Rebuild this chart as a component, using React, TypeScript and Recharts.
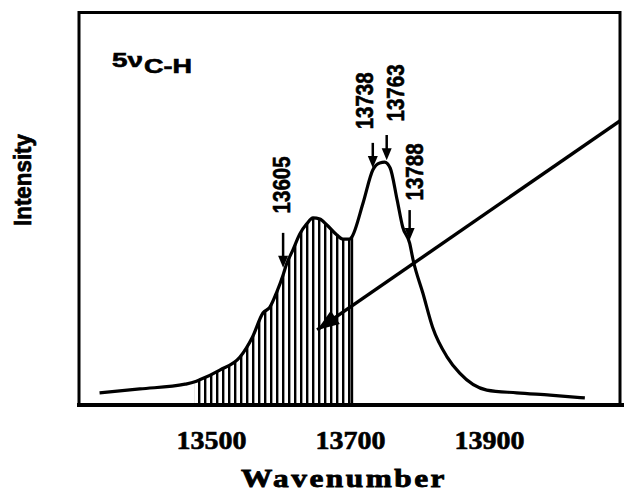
import React from 'react';
import {
  ComposedChart,
  Line,
  Area,
  XAxis,
  YAxis,
  ReferenceLine,
  Scatter,
  Customized,
} from 'recharts';

// Spectrum (wavenumber, intensity in arbitrary units 0..100)
const wavenumbers = [
  13339, 13397, 13462, 13476, 13483, 13512, 13541, 13559, 13574, 13584,
  13594, 13603, 13608, 13617, 13627, 13637, 13646, 13656, 13666, 13680,
  13689, 13699, 13702, 13718, 13732, 13742, 13749, 13757, 13767, 13775,
  13785, 13790, 13804, 13818, 13839, 13857, 13896, 13939, 13987, 14037,
];
const intensities = [
  3.1, 4.1, 5.3, 5.9, 6.4, 8.9, 12.2, 17.3, 23.4, 24.9,
  28.8, 33.1, 35.9, 39.4, 43.5, 46.1, 47.6, 47.3, 45.8, 43.3,
  42.2, 42.2, 42.8, 51.4, 59.8, 61.6, 61.8, 60.3, 52.2, 45.3,
  41.2, 36.9, 28.5, 19.8, 12.2, 8.1, 3.8, 3.1, 2.5, 1.8,
];
const hatchStart = 13476;
const hatchEnd = 13702;

const xDomain = [13308, 14089];
const yDomain = [0, 100];
const xTicks = [13500, 13700, 13900];

// Peak annotations
const peakLabels = ['13605', '13738', '13763', '13788'];
const arrowX = [13603, 13732, 13752, 13785];
const arrowTip = [34.9, 60.3, 62.3, 42.0];
const arrowTop = [43.8, 66.7, 68.7, 49.6];
const labelX = [13600, 13720, 13765, 13792];
const labelY = [56.0, 77.4, 79.4, 59.3];

// Diagonal pointer line (upper right to inside hatched area)
const pointerX = [14089, 13652];
const pointerY = [72.5, 19.1];

const spectrum = wavenumbers.map((wn, i) => ({
  wn,
  I: intensities[i],
  hatch: wn >= hatchStart && wn <= hatchEnd ? intensities[i] : null,
}));
const hatchEndValue = intensities[wavenumbers.indexOf(hatchEnd)];

const arrowHeads = arrowX.map((x, i) => ({ wn: x, I: arrowTip[i] }));
const labelPoints = labelX.map((x, i) => ({ wn: x, I: labelY[i], text: peakLabels[i] }));
const pointer = pointerX.map((x, i) => ({ wn: x, I: pointerY[i] }));

const ArrowHead = (props: any) => {
  const { cx, cy } = props;
  if (cx == null || cy == null) return null;
  return <path d={`M${cx},${cy} L${cx - 5},${cy - 12} L${cx + 5},${cy - 12} Z`} fill="#000" />;
};

const PeakLabel = (props: any) => {
  const { cx, cy, payload } = props;
  if (cx == null || cy == null) return null;
  return (
    <text
      x={cx}
      y={cy}
      transform={`rotate(-90 ${cx} ${cy})`}
      textAnchor="middle"
      dominantBaseline="central"
      fontFamily="'Liberation Sans', Arial, sans-serif"
      fontWeight="bold"
      fontSize={24}
      textLength={57}
      lengthAdjust="spacingAndGlyphs"
      fill="#000"
      stroke="#000"
      strokeWidth={0.6}
    >
      {payload.text}
    </text>
  );
};

const PointerDot = (props: any) => {
  const { cx, cy, index } = props;
  if (index !== 1 || cx == null || cy == null) return <g key={`pd-${index}`} />;
  const ang = Math.atan2(0.69, -1);
  const len = 22;
  const w = 8;
  const bx = cx - Math.cos(ang) * len;
  const by = cy - Math.sin(ang) * len;
  const px = -Math.sin(ang) * w;
  const py = Math.cos(ang) * w;
  return (
    <path
      key={`pd-${index}`}
      d={`M${cx},${cy} L${bx + px},${by + py} L${bx - px},${by - py} Z`}
      fill="#000"
    />
  );
};

const Tick = (props: any) => {
  const { x, payload } = props;
  return (
    <text
      x={x}
      y={449}
      textAnchor="middle"
      fontFamily="'Liberation Serif', 'Times New Roman', serif"
      fontWeight="bold"
      fontSize={26}
      textLength={70}
      lengthAdjust="spacingAndGlyphs"
      fill="#000"
      stroke="#000"
      strokeWidth={0.6}
    >
      {payload.value}
    </text>
  );
};

const StaticText = () => (
  <g>
    {/* frame */}
    <rect x={79} y={12.5} width={541} height={392.5} fill="none" stroke="#000" strokeWidth={3} />
    <line x1={77} y1={405} x2={624} y2={405} stroke="#000" strokeWidth={4} />
    <text
      x={23}
      y={180}
      transform="rotate(-90 23 180)"
      textAnchor="middle"
      dominantBaseline="central"
      fontFamily="'Liberation Sans Narrow', 'Liberation Sans', Arial, sans-serif"
      fontWeight="bold"
      fontSize={23}
      textLength={92}
      lengthAdjust="spacingAndGlyphs"
      fill="#000"
      stroke="#000"
      strokeWidth={0.7}
    >
      Intensity
    </text>
    <text
      x={344}
      y={487}
      textAnchor="middle"
      fontFamily="'Liberation Serif', 'Times New Roman', serif"
      fontWeight="bold"
      fontSize={25}
      letterSpacing={2}
      textLength={206}
      lengthAdjust="spacingAndGlyphs"
      fill="#000"
      stroke="#000"
      strokeWidth={0.8}
    >
      Wavenumber
    </text>
    <text
      x={112}
      y={67}
      fontFamily="'Liberation Sans', Arial, sans-serif"
      fontWeight="bold"
      fontSize={21}
      textLength={31}
      lengthAdjust="spacingAndGlyphs"
      fill="#000"
      stroke="#000"
      strokeWidth={0.6}
    >
      5ν
    </text>
    <text
      x={144}
      y={73}
      fontFamily="'Liberation Sans', Arial, sans-serif"
      fontWeight="bold"
      fontSize={20}
      textLength={48}
      lengthAdjust="spacingAndGlyphs"
      fill="#000"
      stroke="#000"
      strokeWidth={0.6}
    >
      C-H
    </text>
  </g>
);

export default function App() {
  return (
    <div
      style={{
        position: 'absolute',
        left: 0,
        top: 0,
        width: 624,
        height: 494,
        overflow: 'hidden',
        background: '#fff',
      }}
    >
      <ComposedChart
        width={624}
        height={494}
        data={spectrum}
        margin={{ top: 12, right: 3, left: 78, bottom: 59 }}
        style={{ display: 'block' }}
      >
        <defs>
          <pattern id="hatch" patternUnits="userSpaceOnUse" width={6} height={10}>
            <rect x={0} y={0} width={2.4} height={10} fill="#000" />
          </pattern>
        </defs>
        <XAxis
          type="number"
          dataKey="wn"
          domain={xDomain}
          ticks={xTicks}
          allowDataOverflow
          axisLine={false}
          tickLine={false}
          height={30}
          tick={<Tick />}
        />
        <YAxis type="number" domain={yDomain} hide allowDataOverflow />
        <Area
          type="monotone"
          dataKey="hatch"
          stroke="none"
          fill="url(#hatch)"
          fillOpacity={1}
          isAnimationActive={false}
          connectNulls={false}
        />
        <ReferenceLine
          segment={[{ x: hatchEnd, y: 0 }, { x: hatchEnd, y: hatchEndValue }]}
          stroke="#000"
          strokeWidth={2.5}
        />
        <Line
          type="monotone"
          dataKey="I"
          stroke="#000"
          strokeWidth={3.2}
          dot={false}
          isAnimationActive={false}
        />
        <Line
          data={pointer}
          type="linear"
          dataKey="I"
          stroke="#000"
          strokeWidth={3.4}
          dot={<PointerDot />}
          isAnimationActive={false}
        />
        {arrowX.map((x, i) => (
          <ReferenceLine
            key={`shaft-${i}`}
            segment={[{ x, y: arrowTop[i] }, { x, y: arrowTip[i] + 2 }]}
            stroke="#000"
            strokeWidth={2.5}
          />
        ))}
        <Scatter data={arrowHeads} dataKey="I" shape={<ArrowHead />} isAnimationActive={false} />
        <Scatter data={labelPoints} dataKey="I" shape={<PeakLabel />} isAnimationActive={false} />
        <Customized component={<StaticText />} />
      </ComposedChart>
    </div>
  );
}
